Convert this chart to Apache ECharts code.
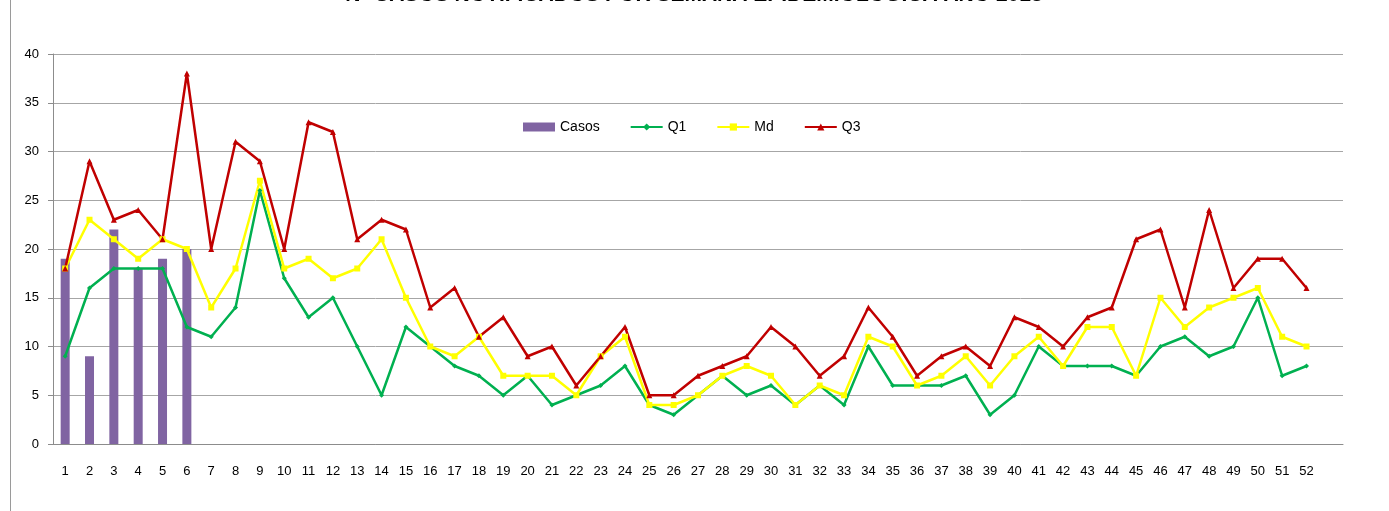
<!DOCTYPE html>
<html>
<head>
<meta charset="utf-8">
<script src="https://cdn.jsdelivr.net/npm/echarts@6/dist/echarts.min.js"></script>
<style>
  html, body { margin: 0; padding: 0; background: #fff; }
  #chart { width: 1389px; height: 511px; }
</style>
</head>
<body>
<div id="chart"></div>
<script>
// semanas epidemiologicas (una casilla vacia al final, como en el original)
var semanas = ['1','2','3','4','5','6','7','8','9','10','11','12','13','14','15','16','17','18','19','20',
  '21','22','23','24','25','26','27','28','29','30','31','32','33','34','35','36','37','38','39','40',
  '41','42','43','44','45','46','47','48','49','50','51','52',''];

var casos = [19, 9, 22, 18, 19, 20];

var q1 = [9,16,18,18,18,12,11,14,26,17,13,15,10,5,12,10,8,7,5,7,
  4,5,6,8,4,3,5,7,5,6,4,6,4,10,6,6,6,7,3,5,
  10,8,8,8,7,10,11,9,10,15,7,8];

var md = [18,23,21,19,21,20,14,18,27,18,19,17,18,21,15,10,9,11,7,7,
  7,5,9,11,4,4,5,7,8,7,4,6,5,11,10,6,7,9,6,9,
  11,8,12,12,7,15,12,14,15,16,11,10];

var q3 = [18,29,23,24,21,38,20,31,29,20,33,32,21,23,22,14,16,11,13,9,
  10,6,9,12,5,5,7,8,9,12,10,7,9,14,11,7,9,10,8,13,
  12,10,13,14,21,22,14,24,16,19,19,16];

var yTicks = { min: 0, max: 40, step: 5 };

var font = 'Liberation Sans';
var myChart = echarts.init(document.getElementById('chart'));
var option = {
  animation: false,
  textStyle: { fontFamily: font },
  graphic: [
    {
      // titulo cortado arriba, como en la imagen original
      type: 'text',
      x: 694,
      y: 6,
      style: {
        text: 'Nº CASOS NOTIFICADOS POR SEMANA EPIDEMIOLOGICA AÑO 2013',
        textAlign: 'center',
        textVerticalAlign: 'bottom',
        font: 'bold 21px "Liberation Sans"',
        fill: '#000'
      }
    },
    {
      type: 'line',
      shape: { x1: 10.5, y1: 0, x2: 10.5, y2: 511 },
      style: { stroke: '#9a9a9a', lineWidth: 1 }
    }
  ],
  legend: {
    left: 518,
    top: 115,
    itemGap: 30,
    itemWidth: 32,
    itemHeight: 9,
    textStyle: { fontSize: 14, color: '#000', fontFamily: font },
    data: [
      { name: 'Casos', icon: 'rect' },
      { name: 'Q1' },
      { name: 'Md' },
      { name: 'Q3' }
    ]
  },
  grid: { left: 53, right: 46, top: 54, bottom: 67 },
  xAxis: {
    type: 'category',
    data: semanas,
    axisLine: { lineStyle: { color: '#8c8c8c' } },
    axisTick: { interval: 0, length: 5, lineStyle: { color: '#8c8c8c' } },
    axisLabel: { interval: 0, margin: 21, fontSize: 13, color: '#000' }
  },
  yAxis: {
    type: 'value',
    min: yTicks.min,
    max: yTicks.max,
    interval: yTicks.step,
    axisLine: { show: true, lineStyle: { color: '#8c8c8c' } },
    axisTick: { show: true, length: 5, lineStyle: { color: '#8c8c8c' } },
    axisLabel: { margin: 14, fontSize: 13, color: '#000' },
    splitLine: { lineStyle: { color: '#a6a6a6' } }
  },
  series: [
    {
      name: 'Casos',
      type: 'bar',
      data: casos,
      barWidth: 9,
      itemStyle: { color: '#8064A2' }
    },
    {
      name: 'Q1',
      type: 'line',
      data: q1,
      symbol: 'diamond',
      symbolSize: 5,
      lineStyle: { width: 2.5, color: '#00B050' },
      itemStyle: { color: '#00B050' }
    },
    {
      name: 'Md',
      type: 'line',
      data: md,
      symbol: 'rect',
      symbolSize: 6,
      lineStyle: { width: 2.5, color: '#FFFF00' },
      itemStyle: { color: '#FFFF00' }
    },
    {
      name: 'Q3',
      type: 'line',
      data: q3,
      symbol: 'triangle',
      symbolSize: 6,
      lineStyle: { width: 2.5, color: '#C00000' },
      itemStyle: { color: '#C00000' }
    }
  ]
};
myChart.setOption(option);
window.addEventListener('resize', function () {
  myChart.resize();
});
</script>
</body>
</html>
